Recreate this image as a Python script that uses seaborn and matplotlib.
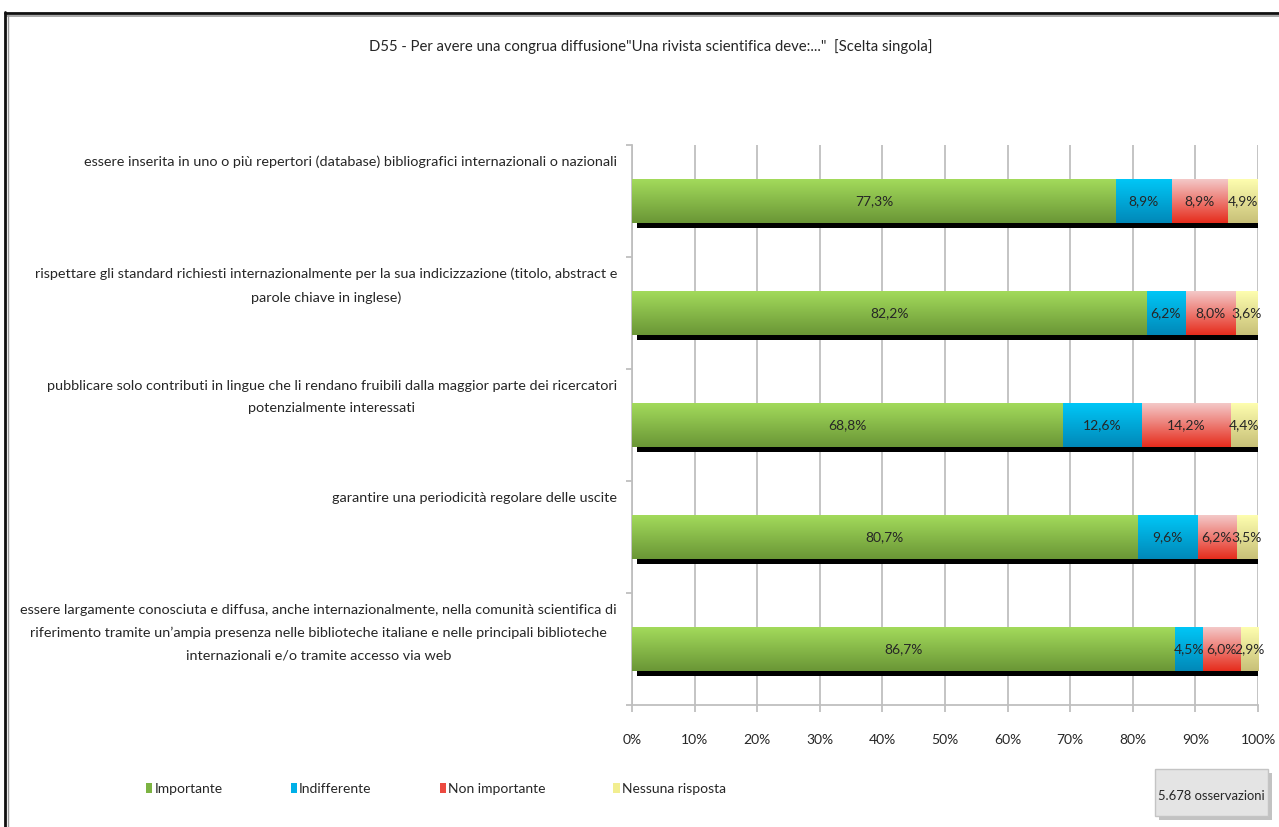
import numpy as np
import pandas as pd
import matplotlib
matplotlib.use("Agg")
import matplotlib.pyplot as plt
import seaborn as sns
from matplotlib import patheffects as pe
from matplotlib.colors import LinearSegmentedColormap
from matplotlib.patches import Rectangle, Patch
from matplotlib.lines import Line2D

# ---- data -------------------------------------------------------------
items = [
    "essere inserita in uno o più repertori (database) bibliografici internazionali o nazionali",
    "rispettare gli standard richiesti internazionalmente per la sua indicizzazione (titolo, abstract e\nparole chiave in inglese)",
    "pubblicare solo contributi in lingue che li rendano fruibili dalla maggior parte dei ricercatori\npotenzialmente interessati",
    "garantire una periodicità regolare delle uscite",
    "essere largamente conosciuta e diffusa, anche internazionalmente, nella comunità scientifica di\nriferimento tramite un’ampia presenza nelle biblioteche italiane e nelle principali biblioteche\ninternazionali e/o tramite accesso via web",
]
series_names = ["Importante", "Indifferente", "Non importante", "Nessuna risposta"]
importante = [77.3, 82.2, 68.8, 80.7, 86.7]
indifferente = [8.9, 6.2, 12.6, 9.6, 4.5]
non_importante = [8.9, 8.0, 14.2, 6.2, 6.0]
nessuna_risposta = [4.9, 3.6, 4.4, 3.5, 2.9]
tick_values = list(range(0, 101, 10))
tick_labels = [f"{t}%" for t in tick_values]
title = 'D55 - Per avere una congrua diffusione"Una rivista scientifica deve:..."  [Scelta singola]'
n_obs_text = "5.678 osservazioni"

# top / bottom colours of each series' vertical gradient
grad_colors = {
    "Importante": ("#a4dc5c", "#6a9636"),
    "Indifferente": ("#00c8f8", "#0088b8"),
    "Non importante": ("#f4cccc", "#e62c1c"),
    "Nessuna risposta": ("#ffffb0", "#c8c078"),
}
legend_colors = {
    "Importante": "#7cb342",
    "Indifferente": "#00b0e8",
    "Non importante": "#ec4a40",
    "Nessuna risposta": "#f2ee90",
}

df = pd.DataFrame({
    "item": items,
    "Importante": importante,
    "Indifferente": indifferente,
    "Non importante": non_importante,
    "Nessuna risposta": nessuna_risposta,
})
cum = df[series_names].cumsum(axis=1)
for s in series_names:
    df[f"cum_{s}"] = cum[s]

# ---- style ------------------------------------------------------------
sns.set_style("white")
plt.rcParams["font.family"] = ["Lato", "DejaVu Sans"]
plt.rcParams["text.color"] = "#262626"
FS = 10.4
GRID = "#bfbfbf"

W, H = 1279, 827
fig = plt.figure(figsize=(W / 100, H / 100), dpi=100)
ax_left, ax_right, ax_top, ax_bottom = 632, 1258, 145, 705
ax = fig.add_axes([ax_left / W, 1 - ax_bottom / H,
                   (ax_right - ax_left) / W, (ax_bottom - ax_top) / H])

BAR_H = 0.40

# stacked bars: draw cumulative totals from longest to shortest
bar_sets = {}
for s in reversed(series_names):
    before = len(ax.patches)
    sns.barplot(data=df, y="item", x=f"cum_{s}", order=items, orient="h",
                color=grad_colors[s][1], saturation=1, width=BAR_H,
                linewidth=0, ax=ax)
    bar_sets[s] = ax.patches[before:]

# dark drop shadow under the full-length bars
for p in bar_sets["Nessuna risposta"]:
    p.set_path_effects([pe.SimplePatchShadow(offset=(3.5, -3.0), shadow_rgbFace="black", alpha=1.0),
                        pe.Normal()])

# vertical gradient fill clipped to each bar
grad = np.linspace(0, 1, 128).reshape(-1, 1)
z = 2
for s in reversed(series_names):
    cmap = LinearSegmentedColormap.from_list(s, grad_colors[s])
    for p in bar_sets[s]:
        x0, y0, w, h = p.get_x(), p.get_y(), p.get_width(), p.get_height()
        im = ax.imshow(grad, cmap=cmap, extent=(x0, x0 + w, y0 + h, y0),
                       aspect="auto", interpolation="bilinear", zorder=z)
        im.set_clip_path(p)
    z += 1

ax.set_xlim(0, 100)
ax.set_ylim(len(items) - 0.5, -0.5)

# value labels centred in each segment
for s in series_names:
    for i, v in enumerate(df[s]):
        xc = df[f"cum_{s}"][i] - v / 2
        ax.text(xc, i, f"{v:.1f}%".replace(".", ","), ha="center", va="center",
                fontsize=FS - 0.4, color="#262626", zorder=20)

# item labels at the top of each band
for i, lab in enumerate(items):
    ax.text(-0.024, i - 0.5 + 0.095, lab, transform=ax.get_yaxis_transform(),
            ha="right", va="top", multialignment="center", fontsize=FS,
            linespacing=2.05, color="#262626")

# axes styling
ax.set_xlabel("")
ax.set_ylabel("")
ax.set_xticks(tick_values)
ax.set_xticklabels(tick_labels, fontsize=FS - 0.4, color="#262626")
ax.set_yticks(np.arange(-0.5, len(items), 1))
ax.set_yticklabels([])
ax.grid(axis="x", color=GRID, linewidth=1.3)
ax.grid(axis="y", visible=False)
ax.set_axisbelow(True)
ax.tick_params(axis="x", length=5, width=1.3, color=GRID, pad=16, direction="out", bottom=True)
ax.tick_params(axis="y", length=4, width=1.3, color=GRID, direction="out", left=True)
for side in ("top", "right"):
    ax.spines[side].set_visible(False)
for side in ("left", "bottom"):
    ax.spines[side].set_color(GRID)
    ax.spines[side].set_linewidth(1.3)

# title
fig.text(651 / W, 1 - 47 / H, title, ha="center", va="center", fontsize=10.7, color="#262626")

# legend
handles = [Patch(facecolor=legend_colors[s], edgecolor="none", label=s) for s in series_names]
fig.legend(handles=handles, loc="center", bbox_to_anchor=(436 / W, 1 - 789 / H), ncol=4,
           frameon=False, fontsize=FS - 0.4, handlelength=0.45, handleheight=0.75,
           handletextpad=0.15, columnspacing=4.9)

# observation count box with shadow
bx, by, bw, bh = 1155, 769, 113, 47
fig.add_artist(Rectangle(((bx + 4) / W, 1 - (by + bh + 4) / H), bw / W, bh / H,
                         transform=fig.transFigure, facecolor="#a8a8a8", edgecolor="none",
                         alpha=0.7, zorder=5))
fig.add_artist(Rectangle((bx / W, 1 - (by + bh) / H), bw / W, bh / H,
                         transform=fig.transFigure, facecolor="#e4e4e4", edgecolor="#c4c4c4",
                         linewidth=1.0, zorder=6))
fig.text((bx + bw / 2) / W, 1 - 796 / H, n_obs_text, ha="center", va="center",
         fontsize=9.4, color="#262626", zorder=7)

# outer frame lines (top and left)
fig.add_artist(Line2D([5 / W, 1], [1 - 13 / H] * 2, transform=fig.transFigure,
                      color="#111111", linewidth=2.0))
fig.add_artist(Line2D([7 / W, 1], [1 - 15.5 / H] * 2, transform=fig.transFigure,
                      color="#9a9a9a", linewidth=1.2))
fig.add_artist(Line2D([5.5 / W] * 2, [0, 1 - 12 / H], transform=fig.transFigure,
                      color="#111111", linewidth=2.0))
fig.add_artist(Line2D([7.8 / W] * 2, [0, 1 - 15 / H], transform=fig.transFigure,
                      color="#9a9a9a", linewidth=1.0))

fig.savefig("out.png", dpi=100, facecolor="white")
